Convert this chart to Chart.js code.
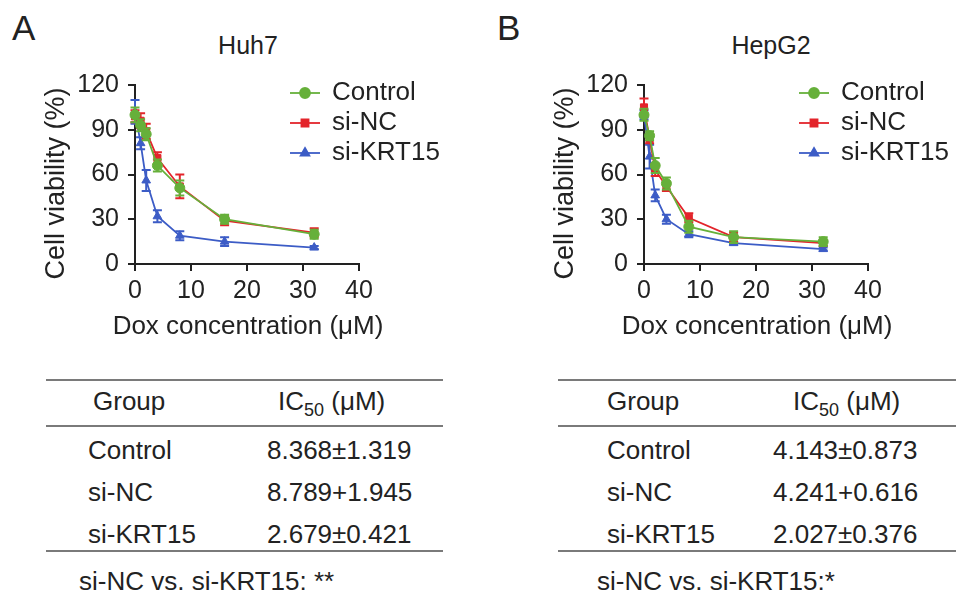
<!DOCTYPE html>
<html lang="en">
<head>
  <meta charset="UTF-8">
  <title>Cell viability</title>
  <script src="https://cdn.jsdelivr.net/npm/chart.js"></script>
  <style>
    body {
      margin: 0;
      width: 969px;
      height: 603px;
      position: relative;
      background: #fff;
      font-family: "Liberation Sans", Arial, Helvetica, sans-serif;
      color: #222;
      overflow: hidden;
    }
    canvas { position: absolute; top: 0; }
    .txt { position: absolute; white-space: nowrap; line-height: 1; }
    .letter { font-size: 35px; }
    .title { font-size: 25px; transform: translateX(-50%); }
    .cell { font-size: 26px; transform: translateY(-50%); }
    .rule { position: absolute; height: 2px; background: #7a7a7a; }
    sub { font-size: 18px; vertical-align: -6px; line-height: 0; }
  </style>
</head>
<body>

  <div class="txt letter" style="left:12px; top:10px;">A</div>
  <div class="txt letter" style="left:497px; top:10px;">B</div>
  <div class="txt title" style="left:248px; top:33px;">Huh7</div>
  <div class="txt title" style="left:771px; top:33px;">HepG2</div>

  <canvas id="huh7" width="484" height="345" style="left:0px;"></canvas>
  <canvas id="hepg2" width="484" height="345" style="left:509px;"></canvas>

  <!-- IC50 tables -->
  <div class="rule" style="left:46px; width:397px; top:379px;"></div>
  <div class="txt cell" style="left:93px; top:401px;">Group</div>
  <div class="txt cell" style="left:278px; top:401px;">IC<sub>50</sub> (μM)</div>
  <div class="rule" style="left:46px; width:397px; top:425px;"></div>
  <div class="txt cell" style="left:88px; top:450px;">Control</div>
  <div class="txt cell" style="left:267px; top:450px;">8.368±1.319</div>
  <div class="txt cell" style="left:88px; top:492px;">si-NC</div>
  <div class="txt cell" style="left:267px; top:492px;">8.789+1.945</div>
  <div class="txt cell" style="left:88px; top:534px;">si-KRT15</div>
  <div class="txt cell" style="left:267px; top:534px;">2.679±0.421</div>
  <div class="rule" style="left:46px; width:397px; top:550px;"></div>
  <div class="txt cell" style="left:79px; top:581px;">si-NC vs. si-KRT15: **</div>

  <div class="rule" style="left:558px; width:398px; top:379px;"></div>
  <div class="txt cell" style="left:607px; top:401px;">Group</div>
  <div class="txt cell" style="left:793px; top:401px;">IC<sub>50</sub> (μM)</div>
  <div class="rule" style="left:558px; width:398px; top:425px;"></div>
  <div class="txt cell" style="left:607px; top:450px;">Control</div>
  <div class="txt cell" style="left:773px; top:450px;">4.143±0.873</div>
  <div class="txt cell" style="left:607px; top:492px;">si-NC</div>
  <div class="txt cell" style="left:773px; top:492px;">4.241+0.616</div>
  <div class="txt cell" style="left:607px; top:534px;">si-KRT15</div>
  <div class="txt cell" style="left:773px; top:534px;">2.027±0.376</div>
  <div class="rule" style="left:558px; width:398px; top:550px;"></div>
  <div class="txt cell" style="left:597px; top:581px;">si-NC vs. si-KRT15:*</div>

  <script>
    // doses (uM) and axis ticks
    const doses = [0, 1, 2, 4, 8, 16, 32];
    const xTicks = [0, 10, 20, 30, 40];
    const yTicks = [0, 30, 60, 90, 120];
    const groups = ['Control', 'si-NC', 'si-KRT15'];
    const xTitle = 'Dox concentration (μM)';
    const yTitle = 'Cell viability (%)';

    // Huh7 viability (%) and error bars
    const huh7Control = [100, 93, 87, 66, 51, 30, 20];
    const huh7ControlSd = [5, 4, 4, 4, 5, 3, 3];
    const huh7SiNC = [99, 96, 89, 71, 52, 29, 21];
    const huh7SiNCSd = [4, 5, 5, 4, 8, 3, 3];
    const huh7SiKRT15 = [102, 81, 56, 32, 19, 15, 11];
    const huh7SiKRT15Sd = [8, 4, 7, 4, 3, 3, 1];

    // HepG2 viability (%) and error bars
    const hepg2Control = [100, 86, 66, 54, 25, 18, 15];
    const hepg2ControlSd = [4, 3, 5, 4, 4, 4, 3];
    const hepg2SiNC = [105, 84, 63, 52, 31, 18, 14];
    const hepg2SiNCSd = [6, 3, 4, 3, 3, 3, 2];
    const hepg2SiKRT15 = [100, 72, 46, 30, 20, 14, 10];
    const hepg2SiKRT15Sd = [3, 8, 4, 3, 2, 1, 1];

    const colors = ['#66b03a', '#e3242b', '#3c5cc6'];
    const markers = ['circle', 'rect', 'triangle'];
    const FONT = '"Liberation Sans", Arial, sans-serif';

    // error bars drawn under each dataset's own markers
    const errorBars = {
      id: 'errorBars',
      beforeDatasetDraw(chart, args) {
        const ds = chart.data.datasets[args.index];
        const ys = chart.scales.y;
        const ctx = chart.ctx;
        ctx.save();
        ctx.strokeStyle = ds.borderColor;
        ctx.lineWidth = 2;
        args.meta.data.forEach((pt, i) => {
          const v = ds.data[i].y, e = ds.sd[i];
          const top = ys.getPixelForValue(v + e);
          const bot = ys.getPixelForValue(v - e);
          ctx.beginPath();
          ctx.moveTo(pt.x, top); ctx.lineTo(pt.x, bot);
          ctx.moveTo(pt.x - 4.5, top); ctx.lineTo(pt.x + 4.5, top);
          ctx.moveTo(pt.x - 4.5, bot); ctx.lineTo(pt.x + 4.5, bot);
          ctx.stroke();
        });
        ctx.restore();
      }
    };

    // legend with a short line through the marker
    const lineLegend = {
      id: 'lineLegend',
      afterDraw(chart) {
        const ctx = chart.ctx, a = chart.chartArea;
        const x0 = a.left + 155;
        chart.data.datasets.forEach((ds, i) => {
          const y = a.top + 8 + i * 30;
          ctx.save();
          ctx.strokeStyle = ds.borderColor;
          ctx.lineWidth = 1.8;
          ctx.beginPath();
          ctx.moveTo(x0, y); ctx.lineTo(x0 + 30, y);
          ctx.stroke();
          ctx.fillStyle = ds.backgroundColor;
          Chart.helpers.drawPoint(ctx, { pointStyle: ds.pointStyle, radius: 5, rotation: 0, borderWidth: 1 }, x0 + 15, y);
          ctx.fillStyle = '#222';
          ctx.font = '26px ' + FONT;
          ctx.textBaseline = 'middle';
          ctx.fillText(ds.label, x0 + 42, y);
          ctx.restore();
        });
      }
    };

    // axis titles, drawn freely so they are not squeezed to the axis length
    const axisTitles = {
      id: 'axisTitles',
      afterDraw(chart) {
        const ctx = chart.ctx, a = chart.chartArea;
        ctx.save();
        ctx.fillStyle = '#222';
        ctx.textAlign = 'center';
        ctx.textBaseline = 'middle';
        ctx.font = '26px ' + FONT;
        ctx.fillText(xTitle, (a.left + a.right) / 2 + 1, a.bottom + 63);
        ctx.translate(a.left - 78, (a.top + a.bottom) / 2 + 9);
        ctx.rotate(-Math.PI / 2);
        ctx.font = '27px ' + FONT;
        ctx.fillText(yTitle, 0, 0);
        ctx.restore();
      }
    };

    function makeChart(id, series, sds) {
      const datasets = series.map((vals, k) => ({
        label: groups[k],
        data: doses.map((d, i) => ({ x: d, y: vals[i] })),
        sd: sds[k],
        borderColor: colors[k],
        backgroundColor: colors[k],
        borderWidth: 1.8,
        pointStyle: markers[k],
        pointRadius: 5,
        pointBorderWidth: 1,
        clip: false,
        tension: 0
      }));

      const axisFont = { family: FONT, size: 25 };
      return new Chart(document.getElementById(id), {
        type: 'line',
        data: { datasets },
        options: {
          responsive: false,
          animation: false,
          layout: { padding: { top: 85, right: 125, bottom: 0, left: 0 } },
          plugins: { legend: { display: false }, tooltip: { enabled: false } },
          scales: {
            x: {
              type: 'linear', min: 0, max: 40,
              afterBuildTicks: s => { s.ticks = xTicks.map(v => ({ value: v })); },
              afterFit: s => { s.height = 81; },
              grid: { drawOnChartArea: false, drawTicks: true, tickLength: 7, color: '#222', lineWidth: 2 },
              border: { color: '#222', width: 2 },
              ticks: { color: '#222', font: axisFont, padding: 5, maxRotation: 0 }
            },
            y: {
              type: 'linear', min: 0, max: 120,
              afterBuildTicks: s => { s.ticks = yTicks.map(v => ({ value: v })); },
              afterFit: s => { s.width = 135; },
              grid: { drawOnChartArea: false, drawTicks: true, tickLength: 7, color: '#222', lineWidth: 2 },
              border: { color: '#222', width: 2 },
              ticks: { color: '#222', font: axisFont, padding: 9 }
            }
          }
        },
        plugins: [errorBars, lineLegend, axisTitles]
      });
    }

    makeChart('huh7', [huh7Control, huh7SiNC, huh7SiKRT15], [huh7ControlSd, huh7SiNCSd, huh7SiKRT15Sd]);
    makeChart('hepg2', [hepg2Control, hepg2SiNC, hepg2SiKRT15], [hepg2ControlSd, hepg2SiNCSd, hepg2SiKRT15Sd]);
  </script>
</body>
</html>
